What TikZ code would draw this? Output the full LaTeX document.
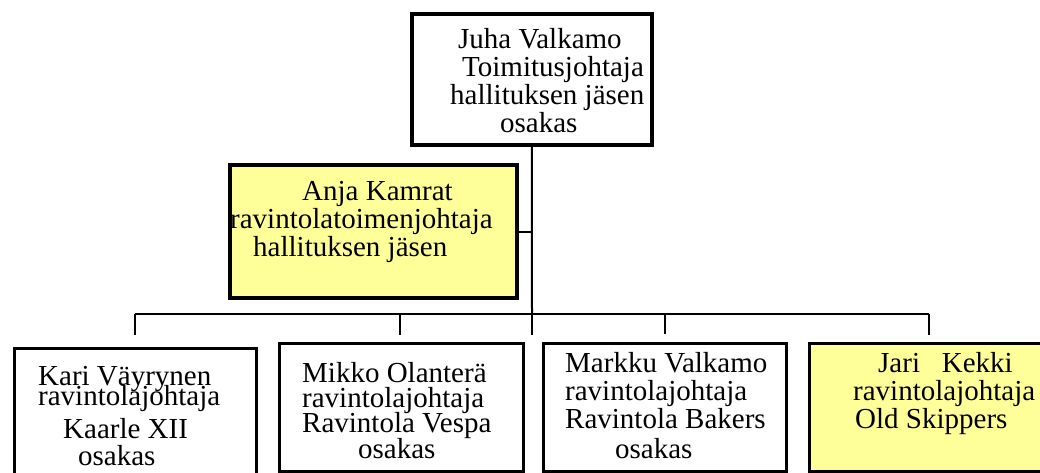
\documentclass[tikz,border=0pt]{standalone}
\usepackage{fontspec}
\setmainfont{Liberation Serif}
\definecolor{paleyellow}{RGB}{255,255,153}
\tikzset{
  box/.style={draw=black, line width=3pt, fill=white, inner sep=0pt, anchor=north west},
  topbox/.style={box, line width=3.5pt},
  hibox/.style={box, fill=paleyellow},
  line/.style={draw=black, line width=2pt},
  drop/.style={draw=black, line width=2.5pt},
  txt/.style={anchor=base west, inner sep=0pt, font=\fontsize{29}{28}\selectfont}
}
\begin{document}
\begin{tikzpicture}[x=1pt,y=-1pt]
\useasboundingbox (0,0) rectangle (1040,472);
\clip (0,0) rectangle (1040,472);

% board members
\node[topbox, minimum width=240pt, minimum height=131pt] (ceo) at (410,12) {};
\fill[black] (231,166) rectangle (518,299);
\node[hibox, line width=4pt, minimum width=287pt, minimum height=133pt] (anja) at (228,163) {};

% restaurant managers
\node[box, minimum width=242pt, minimum height=140pt] (kari) at (13,347) {};
\node[box, minimum width=244pt, minimum height=128pt] (mikko) at (278,342) {};
\node[box, minimum width=243pt, minimum height=128pt] (markku) at (542,342) {};
\node[hibox, minimum width=250pt, minimum height=128pt] (jari) at (808,342) {};

% tree connectors
\coordinate (bus) at (532,314);
\coordinate (busL) at (135,314);
\coordinate (busR) at (929,314);
\draw[line] (ceo.south) -- (bus);
\draw[line] (anja.east) -- (anja.east -| bus);
\draw[line] (busL) -- (busR);
\coordinate (d1) at (135,335);
\coordinate (d2) at (400,335);
\coordinate (d3) at (532,335);
\coordinate (d4) at (665,334);
\coordinate (d5) at (929,335);
\draw[drop] (busL) -- (d1);
\draw[drop] (d2 |- bus) -- (d2);
\draw[drop] (bus) -- (d3);
\draw[drop] (d4 |- bus) -- (d4);
\draw[drop] (busR) -- (d5);

% texts
\node[txt] (c1) at (458,48) {Juha Valkamo};
\node[txt] (c2) at (462,76) {Toimitusjohtaja};
\node[txt] (c3) at (450,104) {hallituksen jäsen};
\node[txt] (c4) at (500,132) {osakas};

\node[txt] (a1) at (302,200) {Anja Kamrat};
\node[txt] (a2) at (230,228) {ravintolatoimenjohtaja};
\node[txt] (a3) at (253,256) {hallituksen jäsen};

\node[txt] (k1) at (38,385) {Kari Väyrynen};
\node[txt] (k2) at (38,405) {ravintolajohtaja};
\node[txt] (k3) at (63,438) {Kaarle XII};
\node[txt] (k4) at (78,465) {osakas};

\node[txt] (m1) at (302,382) {Mikko Olanterä};
\node[txt] (m2) at (302,407) {ravintolajohtaja};
\node[txt] (m3) at (302,432) {Ravintola Vespa};
\node[txt] (m4) at (358,458) {osakas};

\node[txt] (v1) at (565,372) {Markku Valkamo};
\node[txt] (v2) at (565,400) {ravintolajohtaja};
\node[txt] (v3) at (565,428) {Ravintola Bakers};
\node[txt] (v4) at (615,458) {osakas};

\node[txt] (j1) at (878,372) {Jari\ \ \ Kekki};
\node[txt] (j2) at (853,400) {ravintolajohtaja};
\node[txt] (j3) at (855,428) {Old Skippers};
\end{tikzpicture}
\end{document}
